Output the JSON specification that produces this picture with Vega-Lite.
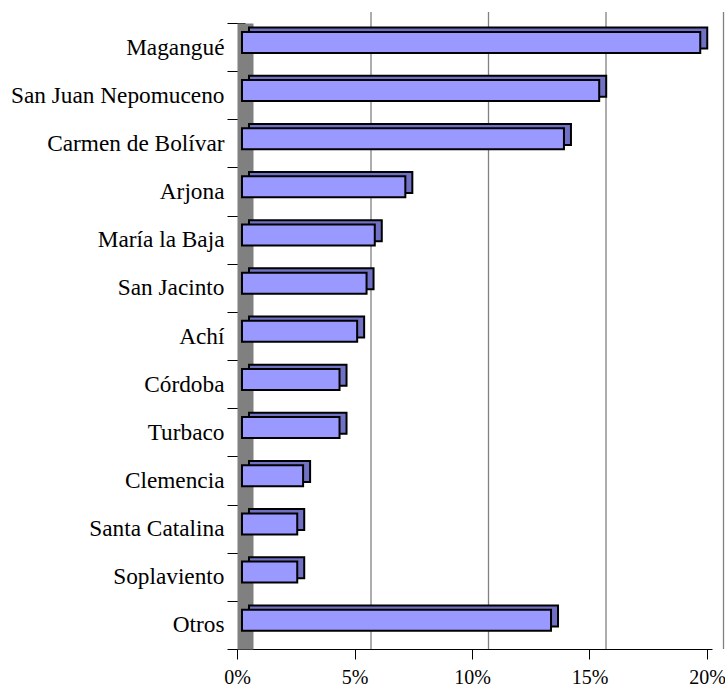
{
  "$schema": "https://vega.github.io/schema/vega-lite/v6.json",
  "autosize": {"type": "none"},
  "padding": {"left": 242, "top": 23, "right": 13, "bottom": 38},
  "width": 470,
  "height": 626,
  "background": "white",
  "datasets": {
    "shares": [
      {"municipio": "Magangué", "pct": 0.195},
      {"municipio": "San Juan Nepomuceno", "pct": 0.152},
      {"municipio": "Carmen de Bolívar", "pct": 0.137},
      {"municipio": "Arjona", "pct": 0.0695},
      {"municipio": "María la Baja", "pct": 0.0565},
      {"municipio": "San Jacinto", "pct": 0.053},
      {"municipio": "Achí", "pct": 0.049},
      {"municipio": "Córdoba", "pct": 0.0415},
      {"municipio": "Turbaco", "pct": 0.0415},
      {"municipio": "Clemencia", "pct": 0.026},
      {"municipio": "Santa Catalina", "pct": 0.0235},
      {"municipio": "Soplaviento", "pct": 0.0235},
      {"municipio": "Otros", "pct": 0.1315}
    ],
    "grid": [{"g": 0.05}, {"g": 0.1}, {"g": 0.15}, {"g": 0.2}]
  },
  "layer": [
    {
      "data": {"name": "grid"},
      "mark": {"type": "rule", "color": "#808080", "strokeWidth": 1.3, "xOffset": 11.5, "yOffset": -11},
      "encoding": {
        "x": {
          "field": "g", "type": "quantitative", "title": null,
          "scale": {"domain": [0, 0.2], "nice": false, "zero": true},
          "axis": {
            "title": null,
            "values": [0, 0.05, 0.1, 0.15, 0.2],
            "format": ".0%",
            "grid": false,
            "domainColor": "black",
            "domainWidth": 1,
            "tickColor": "black",
            "tickSize": 10,
            "tickOffset": -5,
            "labelFontSize": 20,
            "labelColor": "black",
            "labelPadding": 8,
            "labelFlush": false
          }
        }
      }
    },
    {
      "data": {"name": "shares"},
      "mark": {"type": "bar", "fill": "#7070c4", "stroke": "black", "strokeWidth": 2, "size": 21, "xOffset": 7, "yOffset": -9},
      "encoding": {
        "y": {
          "field": "municipio", "type": "nominal", "sort": null, "title": null,
          "scale": {"paddingInner": 0, "paddingOuter": 0},
          "axis": {
            "title": null,
            "grid": false,
            "offset": -3,
            "domainColor": "#808080",
            "domainWidth": 16,
            "tickColor": "black",
            "tickSize": 18,
            "tickBand": "extent",
            "labelFontSize": 23.3,
            "labelColor": "black",
            "labelPadding": 3,
            "labelLimit": 0
          }
        },
        "x": {"field": "pct", "type": "quantitative", "title": null}
      }
    },
    {
      "data": {"name": "shares"},
      "mark": {"type": "bar", "fill": "#9999ff", "stroke": "black", "strokeWidth": 2, "size": 21, "yOffset": -4.7},
      "encoding": {
        "y": {"field": "municipio", "type": "nominal", "sort": null, "title": null},
        "x": {"field": "pct", "type": "quantitative", "title": null}
      }
    }
  ],
  "config": {
    "view": {"stroke": null},
    "font": "Liberation Serif",
    "axis": {"labelFont": "Liberation Serif"}
  }
}
